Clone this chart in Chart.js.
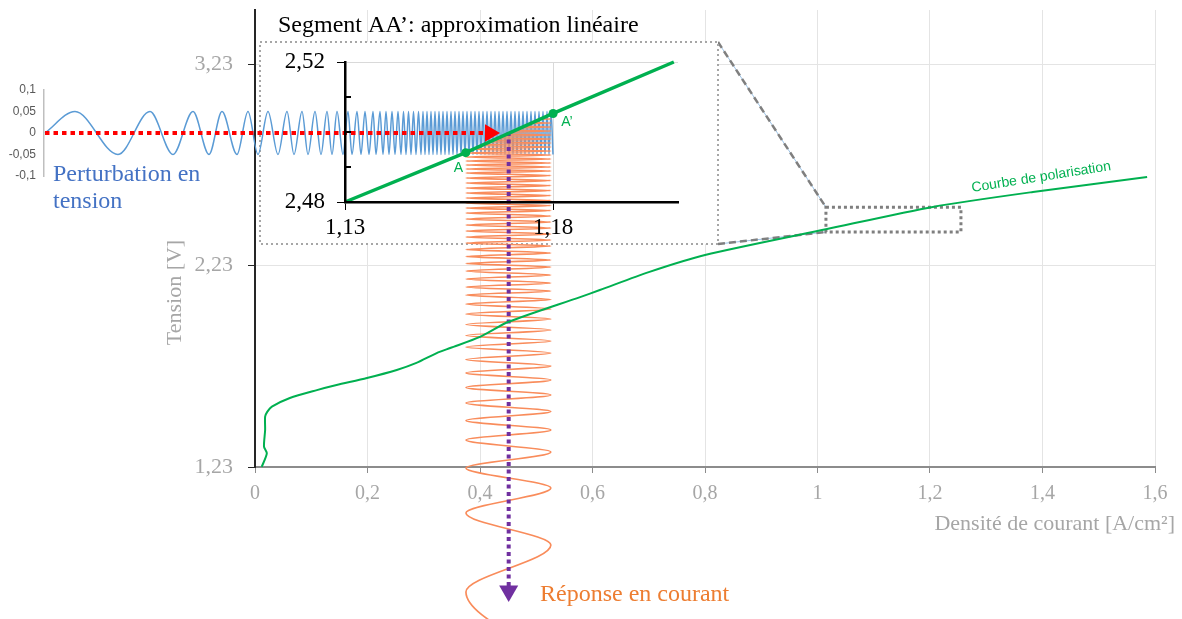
<!DOCTYPE html>
<html>
<head>
<meta charset="utf-8">
<script src="https://cdn.jsdelivr.net/npm/chart.js@4.4.1/dist/chart.umd.min.js"></script>
<style>
  html, body { margin: 0; padding: 0; background: #fff; }
  #wrap { position: relative; width: 1182px; height: 619px; overflow: hidden; }
  #wrap canvas { position: absolute; left: 0; top: 0; }
</style>
</head>
<body>
<div id="wrap">
  <canvas id="pert" width="1182" height="619"></canvas>
  <canvas id="main" width="1182" height="619"></canvas>
  <canvas id="zoom" width="1182" height="619"></canvas>
</div>
<script>
// ---------- data ----------

// polarisation curve: current density (A/cm²) / voltage (V)
const polarJ = [0.012, 0.021, 0.016, 0.018, 0.018, 0.022, 0.030, 0.062, 0.110, 0.145, 0.199, 0.252, 0.287, 0.323, 0.347, 0.400, 0.450, 0.578, 0.613, 0.700, 0.800, 1.017, 1.205, 1.383, 1.586];
const polarV = [1.231, 1.298, 1.331, 1.414, 1.480, 1.505, 1.530, 1.573, 1.612, 1.637, 1.672, 1.712, 1.747, 1.796, 1.821, 1.876, 1.950, 2.074, 2.109, 2.198, 2.283, 2.412, 2.522, 2.596, 2.670];
const mainXTicks = [0, 0.2, 0.4, 0.6, 0.8, 1, 1.2, 1.4, 1.6];
const mainYTicks = [1.23, 2.23, 3.23];

// part of the curve that is blown up in the inset
const zoomJ = [1.015, 1.255];
const zoomV = [2.397, 2.52];

// inset: segment AA'
const insetJ = [1.13, 1.159, 1.18, 1.209];
const insetV = [2.48, 2.4941, 2.5053, 2.52];
const insetXTicks = [1.13, 1.18];
const insetYTicks = [2.48, 2.49, 2.50, 2.51, 2.52];
const insetYLabelled = [2.48, 2.52];
const pointNames = ['A', 'A’'];
const pointJ = [1.159, 1.18];
const pointV = [2.4941, 2.5053];

// voltage perturbation (V): times (ms) of the successive maxima / minima
const pertTicks = [-0.1, -0.05, 0, 0.05, 0.1];
const pertAmp = 0.05;
const pertTimes = [3.0, 7.3, 10.5, 12.8, 14.8, 16.4, 17.7, 19.2, 20.3, 21.3, 22.3, 23.3, 24.2, 24.9, 25.7, 26.3,
  27.0, 27.6, 28.2, 28.7, 29.2, 29.8, 30.3, 30.7, 31.2, 31.6, 32.0, 32.4, 32.8, 33.1, 33.5, 33.8, 34.1, 34.4,
  34.7, 35.0, 35.3, 35.6, 35.85, 36.1, 36.35, 36.6, 36.85, 37.1, 37.35, 37.6, 37.8, 38.0, 38.2, 38.4, 38.6,
  38.8, 39.0, 39.2, 39.4, 39.6, 39.8, 40.0, 40.2, 40.4, 40.6, 40.8, 41.0, 41.2, 41.4, 41.6, 41.8, 42.0, 42.2,
  42.4, 42.6, 42.8, 43.0, 43.2, 43.4, 43.6, 43.8, 44.0, 44.2, 44.4, 44.6, 44.8, 45.0, 45.2, 45.4, 45.6, 45.8,
  46.0, 46.2, 46.4, 46.6, 46.8, 47.0, 47.2, 47.4, 47.6, 47.8, 48.0, 48.2, 48.4, 48.6, 48.8, 49.0, 49.2, 49.4,
  49.6, 49.8, 50.0, 50.2, 50.4, 50.6, 50.8];

// current response (A/cm²): swings between these two values,
// times (ms) of the successive extrema from the curve downwards
const respMin = 0.375;
const respMax = 0.526;
const respTimes = [0.1, 0.3, 0.5, 0.7, 0.9, 1.1, 1.3, 1.5, 1.7, 1.9, 2.1, 2.3, 2.5, 2.7, 2.9, 3.1, 3.3, 3.5,
  3.7, 3.9, 4.1, 4.3, 4.5, 4.7, 4.9, 5.1, 5.3, 5.5, 5.7, 5.9, 6.1, 6.35, 6.6, 6.85, 7.1, 7.35, 7.6, 7.85, 8.1,
  8.35, 8.6, 8.85, 9.1, 9.35, 9.6, 9.85, 10.1, 10.4, 10.7, 11.0, 11.3, 11.6, 11.9, 12.2, 12.5, 12.8, 13.1, 13.4,
  13.75, 14.1, 14.45, 14.8, 15.15, 15.5, 15.9, 16.3, 16.7, 17.1, 17.5, 17.9, 18.3, 18.75, 19.2, 19.7, 20.2,
  20.7, 21.25, 21.8, 22.35, 22.9, 23.5, 24.1, 24.75, 25.4, 26.1, 26.8, 27.55, 28.3, 29.1, 29.95, 30.85, 31.8,
  32.8, 34.0, 35.6, 37.6, 40.1, 43.3, 48.0, 54.8];

// operating point: projection arrows
const opJ = 0.451;
const opTimes = [2.0, 47.9];
const redTimes = [0, 44.5];

// ---------- layout ----------
const W = 1182, H = 619;
const MAIN = { left: 255, right: 1155, top: 10, bottom: 467, xMin: 0, xMax: 1.6, yMin: 1.23, yMax: 3.5 };
const INSET = { left: 345, right: 678, top: 62, bottom: 202 };
const BOX = { left: 260, right: 718, top: 42, bottom: 244 };
const PERT = { left: 44, top: 90, bottom: 176, min: -0.1, max: 0.1 };
const TIME = { h0: 45, v0: 112, pxPerMs: 10 };

const SERIF = '"Liberation Serif", "Times New Roman", serif';
const SANS = '"Liberation Sans", Arial, sans-serif';
const GREY = '#a6a6a6';
const GREEN = '#00b050';

const fmt = v => String(+(+v).toFixed(2)).replace('.', ',');
const near = (a, list) => list.some(b => Math.abs(a - b) < 1e-6);
const lin = (p, p0, p1, v0, v1) => v0 + (p - p0) * (v1 - v0) / (p1 - p0);
const noPad = s => { s.paddingTop = 0; s.paddingBottom = 0; s.paddingLeft = 0; s.paddingRight = 0; };

// ---------- perturbation axis (left) ----------
new Chart(document.getElementById('pert'), {
  type: 'line',
  data: { datasets: [] },
  options: {
    responsive: false, animation: false, events: [], devicePixelRatio: 1,
    layout: { padding: { top: PERT.top, bottom: H - PERT.bottom, left: 0, right: W - PERT.left - 2 } },
    plugins: { legend: { display: false }, tooltip: { enabled: false } },
    scales: {
      x: { type: 'linear', display: false, min: 0, max: 1 },
      y: {
        type: 'linear', min: PERT.min, max: PERT.max,
        afterBuildTicks: s => { s.ticks = pertTicks.map(v => ({ value: v })); },
        afterFit: s => { s.width = PERT.left; noPad(s); },
        grid: { display: false, drawTicks: false },
        border: { color: '#bfbfbf', width: 1.5 },
        ticks: { color: '#595959', font: { family: SANS, size: 12 }, padding: 8, callback: v => fmt(v) }
      }
    }
  }
});

// ---------- main chart: axes, grid, zoom box ----------
const mainDecor = {
  id: 'mainDecor',
  afterDraw(chart) {
    const { ctx, chartArea: a, scales: { x, y } } = chart;
    ctx.save();
    ctx.fillStyle = GREY;
    ctx.font = '22px ' + SERIF;
    ctx.textAlign = 'right';
    ctx.textBaseline = 'middle';
    ctx.fillText('Densité de courant [A/cm²]', a.right + 20, a.bottom + 57);
    ctx.translate(a.left - 80, (a.top + a.bottom) / 2 + 54);
    ctx.rotate(-Math.PI / 2);
    ctx.textAlign = 'center';
    ctx.fillText('Tension [V]', 0, 0);
    ctx.restore();

    const rl = x.getPixelForValue(zoomJ[0]), rr = x.getPixelForValue(zoomJ[1]);
    const rt = y.getPixelForValue(zoomV[1]), rb = y.getPixelForValue(zoomV[0]);
    ctx.save();
    // connectors
    [[BOX.top, rt], [BOX.bottom, rb]].forEach(([from, to]) => {
      ctx.setLineDash([]);
      ctx.strokeStyle = '#9dc3e6';
      ctx.lineWidth = 1;
      ctx.beginPath(); ctx.moveTo(BOX.right, from); ctx.lineTo(rl, to); ctx.stroke();
      ctx.setLineDash([7, 4]);
      ctx.strokeStyle = '#7f7f7f';
      ctx.lineWidth = 2.5;
      ctx.beginPath(); ctx.moveTo(BOX.right, from); ctx.lineTo(rl, to); ctx.stroke();
    });
    ctx.setLineDash([3, 3]);
    ctx.strokeStyle = '#7f7f7f';
    ctx.lineWidth = 3;
    ctx.strokeRect(rl, rt, rr - rl, rb - rt);
    ctx.restore();
  }
};

new Chart(document.getElementById('main'), {
  type: 'line',
  data: { datasets: [] },
  options: {
    responsive: false, animation: false, events: [], devicePixelRatio: 1,
    layout: { padding: { top: MAIN.top, right: W - MAIN.right, left: 0, bottom: 0 } },
    plugins: { legend: { display: false }, tooltip: { enabled: false } },
    scales: {
      x: {
        type: 'linear', min: MAIN.xMin, max: MAIN.xMax,
        afterBuildTicks: s => { s.ticks = mainXTicks.map(v => ({ value: v })); },
        afterFit: s => { s.height = H - MAIN.bottom; noPad(s); },
        grid: { color: '#e4e4e4', tickColor: '#8c8c8c', tickLength: 6 },
        border: { color: '#8c8c8c', width: 2 },
        ticks: { color: GREY, font: { family: SERIF, size: 20 }, padding: 9, maxRotation: 0, autoSkip: false, callback: v => fmt(v) }
      },
      y: {
        type: 'linear', min: MAIN.yMin, max: MAIN.yMax,
        afterBuildTicks: s => { s.ticks = mainYTicks.map(v => ({ value: v })); },
        afterFit: s => { s.width = MAIN.left; noPad(s); },
        grid: { color: '#e4e4e4', tickColor: '#262626', tickLength: 7 },
        border: { color: '#262626', width: 2 },
        ticks: { color: GREY, font: { family: SERIF, size: 22 }, padding: 15, autoSkip: false, callback: v => fmt(v) }
      }
    }
  },
  plugins: [mainDecor]
});

// ---------- inset + waves ----------
const RESP_INDEX = 1;
const PROJ_INDEX = 3;
const insetDecor = {
  id: 'insetDecor',
  beforeDraw(chart) {
    const { ctx } = chart;
    ctx.save();
    ctx.fillStyle = '#fff';
    ctx.fillRect(BOX.left, BOX.top, BOX.right - BOX.left, BOX.bottom - BOX.top);
    ctx.strokeStyle = '#a6a6a6';
    ctx.lineWidth = 2;
    ctx.setLineDash([2, 3]);
    ctx.strokeRect(BOX.left, BOX.top, BOX.right - BOX.left, BOX.bottom - BOX.top);
    ctx.restore();
  },
  beforeDatasetDraw(chart, args) {
    if (args.index !== RESP_INDEX) return;
    // response only shown below the linear segment
    const { ctx, scales: { x, y } } = chart;
    const pts = insetJ.map((j, i) => [x.getPixelForValue(j), y.getPixelForValue(insetV[i])]);
    ctx.save();
    ctx.beginPath();
    ctx.moveTo(pts[0][0], pts[0][1]);
    pts.slice(1).forEach(p => ctx.lineTo(p[0], p[1]));
    ctx.lineTo(pts[pts.length - 1][0], chart.height);
    ctx.lineTo(pts[0][0], chart.height);
    ctx.closePath();
    ctx.clip();
  },
  afterDatasetDraw(chart, args) {
    if (args.index === RESP_INDEX) chart.ctx.restore();
    if (args.index === PROJ_INDEX) {
      // arrow head sits outside the chart area, so draw it here
      const el = args.meta.data[args.meta.data.length - 1];
      chart.ctx.save();
      chart.ctx.fillStyle = '#7030a0';
      Chart.helpers.drawPoint(chart.ctx, { pointStyle: 'triangle', rotation: 180, radius: 11, borderWidth: 0 }, el.x, el.y);
      chart.ctx.restore();
    }
  },
  afterDraw(chart) {
    const { ctx, chartArea: a, scales } = chart;
    ctx.save();
    // inward minor ticks of the inset y axis
    ctx.strokeStyle = '#000';
    ctx.lineWidth = 2;
    ctx.beginPath();
    insetYTicks.filter(v => !near(v, insetYLabelled)).forEach(v => {
      const py = scales.y.getPixelForValue(v);
      ctx.moveTo(a.left, py); ctx.lineTo(a.left + 6, py);
    });
    ctx.stroke();

    ctx.textBaseline = 'alphabetic';
    ctx.textAlign = 'left';
    ctx.fillStyle = '#000';
    ctx.font = '24px ' + SERIF;
    ctx.fillText('Segment AA’: approximation linéaire', BOX.left + 18, BOX.top - 10);

    ctx.fillStyle = '#4472c4';
    ctx.fillText('Perturbation en', 53, 181);
    ctx.fillText('tension', 53, 208);

    ctx.fillStyle = '#ed7d31';
    ctx.fillText('Réponse en courant', 540, 601);

    ctx.fillStyle = GREEN;
    ctx.font = '14px ' + SANS;
    pointNames.forEach((n, i) => {
      const px = scales.x.getPixelForValue(pointJ[i]);
      const py = scales.y.getPixelForValue(pointV[i]);
      if (i === 0) ctx.fillText(n, px - 12, py + 19);
      else ctx.fillText(n, px + 8, py + 13);
    });

    ctx.translate(scales.mx.getPixelForValue(1.275), scales.my.getPixelForValue(2.596));
    ctx.rotate(-9 * Math.PI / 180);
    ctx.fillText('Courbe de polarisation', 0, 0);
    ctx.restore();
  }
};

const hidden = (axis, lo, hi, reverse) => ({
  type: 'linear', axis, display: false, bounds: 'data', reverse: !!reverse,
  afterDataLimits: s => { s.min = lo; s.max = hi; }
});
const mainJ = p => lin(p, MAIN.left, MAIN.right, MAIN.xMin, MAIN.xMax);
const mainV = p => lin(p, MAIN.bottom, MAIN.top, MAIN.yMin, MAIN.yMax);
const pertV = p => lin(p, PERT.bottom, PERT.top, PERT.min, PERT.max);
const timeH = p => (p - TIME.h0) / TIME.pxPerMs;
const timeV = p => (p - TIME.v0) / TIME.pxPerMs;

const pertData = [{ x: 0, y: 0 }].concat(pertTimes.map((t, i) => ({ x: t, y: i % 2 ? -pertAmp : pertAmp })));
const respData = respTimes.map((t, i) => ({ y: t, x: (respTimes.length - 1 - i) % 2 ? respMin : respMax }));
const base = { clip: false, pointRadius: 0, fill: false };

new Chart(document.getElementById('zoom'), {
  type: 'line',
  data: {
    datasets: [
      { ...base, label: 'perturbation', data: pertData, xAxisID: 'th', yAxisID: 'py',
        borderColor: '#5b9bd5', borderWidth: 1.5, cubicInterpolationMode: 'monotone', order: 6 },
      { ...base, label: 'réponse', data: respData, indexAxis: 'y', xAxisID: 'mx', yAxisID: 'tv',
        borderColor: '#f98c5b', borderWidth: 1.7, cubicInterpolationMode: 'monotone', order: 5 },
      { ...base, label: 'tension', data: redTimes.map(t => ({ x: t, y: 0 })), xAxisID: 'th', yAxisID: 'py',
        borderColor: '#ff0000', borderWidth: 4, borderDash: [4.5, 4], borderCapStyle: 'butt',
        pointRadius: [0, 10], pointStyle: 'triangle', pointRotation: 90,
        pointBackgroundColor: '#ff0000', pointBorderWidth: 0, order: 4 },
      { ...base, label: 'projection', data: opTimes.map(t => ({ x: opJ, y: t })), indexAxis: 'y', xAxisID: 'mx', yAxisID: 'tv',
        borderColor: '#7030a0', borderWidth: 4, borderDash: [4, 3.5], borderCapStyle: 'butt', order: 3 },
      { ...base, label: 'polarisation', data: polarJ.map((j, i) => ({ x: j, y: polarV[i] })), xAxisID: 'mx', yAxisID: 'my',
        borderColor: GREEN, borderWidth: 2, tension: 0.25, order: 2 },
      { ...base, label: 'AA', data: insetJ.map((j, i) => ({ x: j, y: insetV[i] })), xAxisID: 'x', yAxisID: 'y',
        borderColor: GREEN, borderWidth: 3.5, order: 1 },
      { ...base, label: 'points', data: pointJ.map((j, i) => ({ x: j, y: pointV[i] })), xAxisID: 'x', yAxisID: 'y',
        showLine: false, pointRadius: 4.5, pointBackgroundColor: GREEN, pointBorderWidth: 0, order: 0 }
    ]
  },
  options: {
    responsive: false, animation: false, events: [], devicePixelRatio: 1,
    elements: { line: { capBezierPoints: false } },
    layout: { padding: { top: INSET.top, right: W - INSET.right, left: 0, bottom: 0 } },
    plugins: { legend: { display: false }, tooltip: { enabled: false } },
    scales: {
      x: {
        type: 'linear', min: 1.13, max: 1.21,
        afterBuildTicks: s => { s.ticks = insetXTicks.map(v => ({ value: v })); },
        afterFit: s => { s.height = H - INSET.bottom; noPad(s); },
        grid: { color: c => near(c.tick.value, [1.18]) ? '#d9d9d9' : 'rgba(0,0,0,0)', tickColor: '#000', tickLength: 8 },
        border: { color: '#000', width: 2.5, z: 1 },
        ticks: { color: '#000', font: { family: SERIF, size: 23 }, padding: 4, maxRotation: 0, autoSkip: false, callback: v => fmt(v), z: 1 }
      },
      y: {
        type: 'linear', min: 2.48, max: 2.52,
        afterBuildTicks: s => { s.ticks = insetYTicks.map(v => ({ value: v })); },
        afterFit: s => { s.width = INSET.left; noPad(s); },
        grid: {
          color: c => near(c.tick.value, [2.52]) ? '#d9d9d9' : 'rgba(0,0,0,0)',
          tickColor: c => near(c.tick.value, insetYLabelled) ? '#000' : 'rgba(0,0,0,0)', tickLength: 8
        },
        border: { color: '#000', width: 2.5, z: 1 },
        ticks: { color: '#000', font: { family: SERIF, size: 23 }, padding: 12, autoSkip: false,
          callback: v => near(v, insetYLabelled) ? fmt(v) : '', z: 1 }
      },
      mx: hidden('x', mainJ(INSET.left), mainJ(INSET.right)),
      my: hidden('y', mainV(INSET.bottom), mainV(INSET.top)),
      th: hidden('x', timeH(INSET.left), timeH(INSET.right)),
      tv: hidden('y', timeV(INSET.top), timeV(INSET.bottom), true),
      py: hidden('y', pertV(INSET.bottom), pertV(INSET.top))
    }
  },
  plugins: [insetDecor]
});
</script>
</body>
</html>
